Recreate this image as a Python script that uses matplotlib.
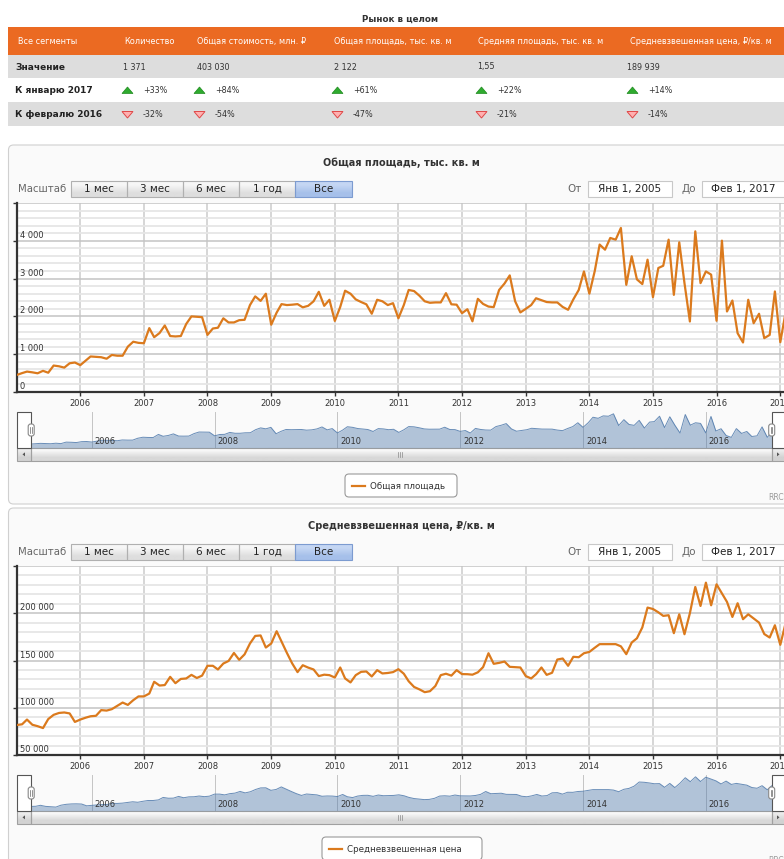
import numpy as np
import pandas as pd
import matplotlib
matplotlib.use('Agg')
import matplotlib.pyplot as plt
import matplotlib.dates as mdates
from matplotlib.patches import Rectangle, FancyBboxPatch, Polygon

plt.rcParams['font.family'] = ['DejaVu Sans']

W, H = 784, 859

# ---- table data ----
table_title = 'Рынок в целом'
header = ['Все сегменты', 'Количество', 'Общая стоимость, млн. ₽', 'Общая площадь, тыс. кв. м',
          'Средняя площадь, тыс. кв. м', 'Средневзвешенная цена, ₽/кв. м']
row_labels = ['Значение', 'К январю 2017', 'К февралю 2016']
values_now = ['1 371', '403 030', '2 122', '1,55', '189 939']
change_jan = ['+33%', '+84%', '+61%', '+22%', '+14%']
change_feb = ['-32%', '-54%', '-47%', '-21%', '-14%']

# ---- series data (monthly, Jan 2005 - Feb 2017) ----
months = pd.date_range('2005-01-01', '2017-02-01', freq='MS')

area = [
    450, 500, 540, 520, 495, 560, 510, 700, 680, 645, 760, 780,
    710, 830, 940, 930, 920, 880, 980, 960, 960, 1200, 1330, 1300,
    1290, 1690, 1450, 1560, 1760, 1480, 1470, 1480, 1800, 2000, 1990, 1980,
    1510, 1680, 1700, 1950, 1840, 1840, 1900, 1910, 2300, 2530, 2410, 2600,
    1780, 2100, 2325, 2300, 2310, 2325, 2240, 2280, 2400, 2650, 2280, 2440,
    1880, 2250, 2680, 2600, 2450, 2380, 2320, 2070, 2440, 2400, 2300, 2350,
    1950, 2300, 2700, 2670, 2550, 2400, 2360, 2370, 2370, 2615, 2320, 2310,
    2085, 2190, 1870, 2465, 2330, 2260, 2245, 2700, 2870, 3085, 2400, 2105,
    2200, 2300, 2480, 2430, 2380, 2370, 2370, 2250, 2175, 2450, 2700, 3190,
    2600, 3200, 3900, 3765, 4075, 4030, 4340, 2835, 3590, 2980, 2855, 3500,
    2510, 3280, 3340, 4030, 2570, 3960, 2880, 1865, 4250, 2880, 3190, 3105,
    1885, 4004, 2130, 2420, 1555, 1310, 2440, 1820, 2070, 1425, 1510, 2660,
    1318, 2122,
]

price = [
    81700, 82500, 87500, 82000, 80500, 78500, 88000, 92500, 94500, 95000, 94000, 85000,
    87500, 89500, 91000, 91500, 97500, 97000, 98500, 102000, 105500, 103000, 108000, 112000,
    112000, 115000, 127500, 123500, 124000, 132700, 126000, 130500, 131000, 134800, 131500, 134000,
    144400, 144400, 140500, 146800, 149500, 158000, 150700, 156500, 168000, 176000, 176500, 163700,
    168000, 181000, 170000, 158000, 147000, 137700, 145000, 142500, 140500, 133500, 135000, 134500,
    132000, 142600, 131000, 126800, 134500, 138000, 138400, 133100, 139800, 136300, 136800, 137700,
    140800, 136000, 128000, 122000, 119500, 116500, 117500, 123000, 134500, 136000, 134000, 139800,
    135600, 135500, 135000, 137500, 143000, 157700, 146500, 147500, 148900, 143300, 143000, 142600,
    133500, 131000, 135500, 142600, 134800, 137000, 151000, 152100, 144400, 153900, 153500, 157700,
    159100, 163500, 167300, 167300, 167300, 167300, 165000, 156700, 169000, 173500, 185000, 206000,
    204500, 201000, 197200, 197900, 178900, 198900, 177800, 200000, 227800, 207700, 232400, 208400,
    230600, 220900, 212000, 196100, 210600, 193700, 198900, 194500, 190100, 178000, 174300, 187300,
    166600, 189939,
]

range_buttons = ['1 мес', '3 мес', '6 мес', '1 год', 'Все']
date_from = 'Янв 1, 2005'
date_to = 'Фев 1, 2017'
nav_years = [2006, 2008, 2010, 2012, 2014, 2016]

line_color = '#db7a1d'
nav_color = '#4572a7'


def px_rect(x0, y0, x1, y1):
    return [x0 / W, 1 - y1 / H, (x1 - x0) / W, (y1 - y0) / H]


fig = plt.figure(figsize=(W / 100, H / 100), dpi=100)
bg = fig.add_axes([0, 0, 1, 1], zorder=-1)
bg.axis('off')
top = fig.add_axes([0, 0, 1, 1], zorder=10)
top.axis('off')
top.patch.set_alpha(0)
for a in (bg, top):
    a.set_xlim(0, W)
    a.set_ylim(H, 0)


def grad_rect(a, x0, y0, x1, y1, c_top, c_bot, edge, lw=0.8):
    cols = matplotlib.colors.to_rgb(c_top), matplotlib.colors.to_rgb(c_bot)
    img = np.array([[cols[0]], [cols[1]]])
    a.imshow(img, extent=(x0, x1, y1, y0), aspect='auto', interpolation='bilinear', zorder=2)
    a.add_patch(Rectangle((x0, y0), x1 - x0, y1 - y0, fc='none', ec=edge, lw=lw, zorder=3))


# ---- table ----
bg.text(400, 19, table_title, ha='center', va='center', fontsize=6.3, fontweight='bold', color='#333333')
bg.add_patch(Rectangle((8, 27), W, 28, fc='#eb6a22', ec='none'))
bg.add_patch(Rectangle((8, 55), W, 23, fc='#dddddd', ec='none'))
bg.add_patch(Rectangle((8, 102), W, 24, fc='#dddddd', ec='none'))

head_x = [18, 124, 197, 334, 478, 630]
for x, t in zip(head_x, header):
    bg.text(x, 41.5, t, ha='left', va='center', fontsize=5.9, color='white')

row_y = [67, 90.5, 114.5]
for y, t in zip(row_y, row_labels):
    bg.text(15, y, t, ha='left', va='center', fontsize=6.5, fontweight='bold', color='#222222')

col_x = [123, 197, 334, 477, 627]
for x, t in zip(col_x, values_now):
    bg.text(x, row_y[0], t, ha='left', va='center', fontsize=5.8, color='#333333')

tri_x = [122, 194, 332, 476, 627]
for x, t in zip(tri_x, change_jan):
    y = row_y[1]
    bg.add_patch(Polygon([(x, y + 3), (x + 5.5, y - 3.5), (x + 11, y + 3)], closed=True,
                         fc='#2fab2f', ec='#1e8a1e', lw=0.5))
    bg.text(x + 21, y, t, ha='left', va='center', fontsize=5.8, color='#333333')
for x, t in zip(tri_x, change_feb):
    y = row_y[2]
    bg.add_patch(Polygon([(x, y - 3), (x + 5.5, y + 3.5), (x + 11, y - 3)], closed=True,
                         fc='#ffb0b0', ec='#e04848', lw=0.7))
    bg.text(x + 21, y, t, ha='left', va='center', fontsize=5.8, color='#333333')


# ---- charts ----
def chart(off, panel_bottom, title, vals, ymin, ymax, major, minor, labels, legend_label, legend_x):
    bg.add_patch(FancyBboxPatch((8.5, off), W + 20, panel_bottom - off,
                                boxstyle='round,pad=0,rounding_size=5', fc='#fafafa', ec='#d0d0d0', lw=0.8))
    bg.text(401, off + 18, title, ha='center', va='center', fontsize=7, fontweight='bold', color='#333333')

    # range selector
    bg.text(18, off + 44, 'Масштаб', ha='left', va='center', fontsize=7.3, color='#666666')
    bx = [70.7, 126.7, 182.7, 238.7, 295.3, 351.7]
    for i, t in enumerate(range_buttons):
        if t == 'Все':
            grad_rect(bg, bx[i], off + 35.7, bx[i + 1], off + 51.7, '#c4d6f3', '#a6c0ea', '#7c9bd0')
        else:
            grad_rect(bg, bx[i], off + 35.7, bx[i + 1], off + 51.7, '#f6f6f6', '#dedede', '#b0b0b0')
        bg.text((bx[i] + bx[i + 1]) / 2, off + 44, t, ha='center', va='center', fontsize=7.5,
                color='#222222', zorder=4)

    bg.text(575, off + 44, 'От', ha='center', va='center', fontsize=7.5, color='#666666')
    bg.add_patch(Rectangle((588, off + 35.7), 84, 16, fc='white', ec='#c8c8c8', lw=0.8))
    bg.text(630, off + 44, date_from, ha='center', va='center', fontsize=7.5, color='#222222')
    bg.text(689, off + 44, 'До', ha='center', va='center', fontsize=7.5, color='#666666')
    bg.add_patch(Rectangle((702, off + 35.7), 90, 16, fc='white', ec='#c8c8c8', lw=0.8))
    bg.text(743.5, off + 44, date_to, ha='center', va='center', fontsize=7.5, color='#222222')

    # main plot
    ax = fig.add_axes(px_rect(16.7, off + 58, 785.7, off + 247))
    ax.set_facecolor('white')
    ax.plot(months, vals, color=line_color, lw=1.6, solid_joinstyle='round', zorder=3)
    ax.set_xlim(months[0], months[-1])
    ax.set_ylim(ymin, ymax)
    ax.set_yticks(major)
    ax.set_yticks(minor, minor=True)
    ax.set_xticks(pd.date_range('2006-01-01', '2017-01-01', freq='YS'))
    ax.xaxis.set_major_formatter(mdates.DateFormatter('%Y'))
    ax.set_axisbelow(True)
    ax.grid(which='major', axis='y', color='#c4c4c4', lw=1.1)
    ax.grid(which='minor', axis='y', color='#e6e6e6', lw=1.3)
    ax.grid(which='major', axis='x', color='#cccccc', lw=1.1)
    ax.tick_params(axis='y', which='major', labelleft=False, length=3, width=1, color='#333333')
    ax.tick_params(axis='y', which='minor', length=0)
    ax.tick_params(axis='x', labelsize=6, labelcolor='#333333', length=3, width=1, color='#333333', pad=2)
    for s in ('top', 'right'):
        ax.spines[s].set_visible(False)
    for s in ('left', 'bottom'):
        ax.spines[s].set_color('#333333')
        ax.spines[s].set_linewidth(1.6)
    for v, lab in zip(major[:-1], labels):
        ax.annotate(lab, xy=(0, v), xycoords=('axes fraction', 'data'), xytext=(3, 1),
                    textcoords='offset pixels', ha='left', va='bottom', fontsize=6, color='#333333')

    # navigator
    nav = fig.add_axes(px_rect(30.5, off + 266.7, 772.5, off + 302.7))
    nav.set_facecolor('white')
    rng = max(vals) - min(vals)
    lo = min(vals) - 0.12 * rng
    nav.set_ylim(lo, max(vals) + 0.07 * rng)
    nav.set_xlim(months[0], months[-1])
    for yr in nav_years:
        d = pd.Timestamp(f'{yr}-01-01')
        nav.axvline(d, color='#c4c4c4', lw=0.7, zorder=1)
        nav.annotate(str(yr), xy=(d, 0), xycoords=('data', 'axes fraction'), xytext=(3, 2),
                     textcoords='offset pixels', ha='left', va='bottom', fontsize=6, color='#333333', zorder=4)
    nav.fill_between(months, vals, lo, color=nav_color, alpha=0.4, lw=0, zorder=2)
    nav.plot(months, vals, color=nav_color, lw=0.7, alpha=0.8, zorder=3)
    nav.axis('off')

    # navigator outline boxes and handles
    top.add_patch(Rectangle((16.7, off + 266.7), 14.3, 36, fc='white', ec='#555555', lw=0.8))
    top.add_patch(Rectangle((771.7, off + 266.7), 20, 36, fc='white', ec='#555555', lw=0.8))
    for hx in (28.2, 768.7):
        top.add_patch(FancyBboxPatch((hx, off + 279), 6, 12, boxstyle='round,pad=0,rounding_size=2.5',
                                     fc='white', ec='#888888', lw=0.8))
        for lx in (hx + 2.2, hx + 3.8):
            top.plot([lx, lx], [off + 282, off + 288], color='#666666', lw=0.5)

    # scrollbar
    sy0, sy1 = off + 302.7, off + 316
    grad_rect(bg, 16.7, sy0, 31, sy1, '#ececec', '#d2d2d2', '#a0a0a0')
    grad_rect(bg, 31, sy0, 771.7, sy1, '#f8f8f8', '#d8d8d8', '#a0a0a0')
    grad_rect(bg, 771.7, sy0, 790, sy1, '#ececec', '#d2d2d2', '#a0a0a0')
    my = (sy0 + sy1) / 2
    bg.add_patch(Polygon([(22.5, my), (25, my - 2), (25, my + 2)], closed=True, fc='#555555', ec='none', zorder=4))
    bg.add_patch(Polygon([(779.5, my), (777, my - 2), (777, my + 2)], closed=True, fc='#555555', ec='none', zorder=4))
    for gx in (398.5, 400.5, 402.5):
        bg.plot([gx, gx], [my - 2.5, my + 2.5], color='#888888', lw=0.5, zorder=4)

    # legend
    lx0, lx1 = legend_x
    bg.add_patch(FancyBboxPatch((lx0, off + 329), lx1 - lx0, 23, boxstyle='round,pad=0,rounding_size=4',
                                fc='white', ec='#9a9a9a', lw=0.8))
    bg.plot([lx0 + 7, lx0 + 20], [off + 341, off + 341], color=line_color, lw=1.6)
    bg.text(lx0 + 25.5, off + 341, legend_label, ha='left', va='center', fontsize=6.3, color='#333333')
    bg.text(768, off + 352.7, 'RRC', ha='left', va='center', fontsize=5.5, color='#9a9a9a')


chart(145, 504, 'Общая площадь, тыс. кв. м', area, 0, 5000,
      [0, 1000, 2000, 3000, 4000, 5000], np.arange(0, 5001, 200),
      ['0', '1 000', '2 000', '3 000', '4 000'], 'Общая площадь', (345, 457))

chart(508, 900, 'Средневзвешенная цена, ₽/кв. м', price, 50000, 250000,
      [50000, 100000, 150000, 200000, 250000], np.arange(50000, 250001, 10000),
      ['50 000', '100 000', '150 000', '200 000'], 'Средневзвешенная цена', (322, 482))

for a in (bg, top):
    a.set_xlim(0, W)
    a.set_ylim(H, 0)

fig.savefig('out.png', dpi=100)
